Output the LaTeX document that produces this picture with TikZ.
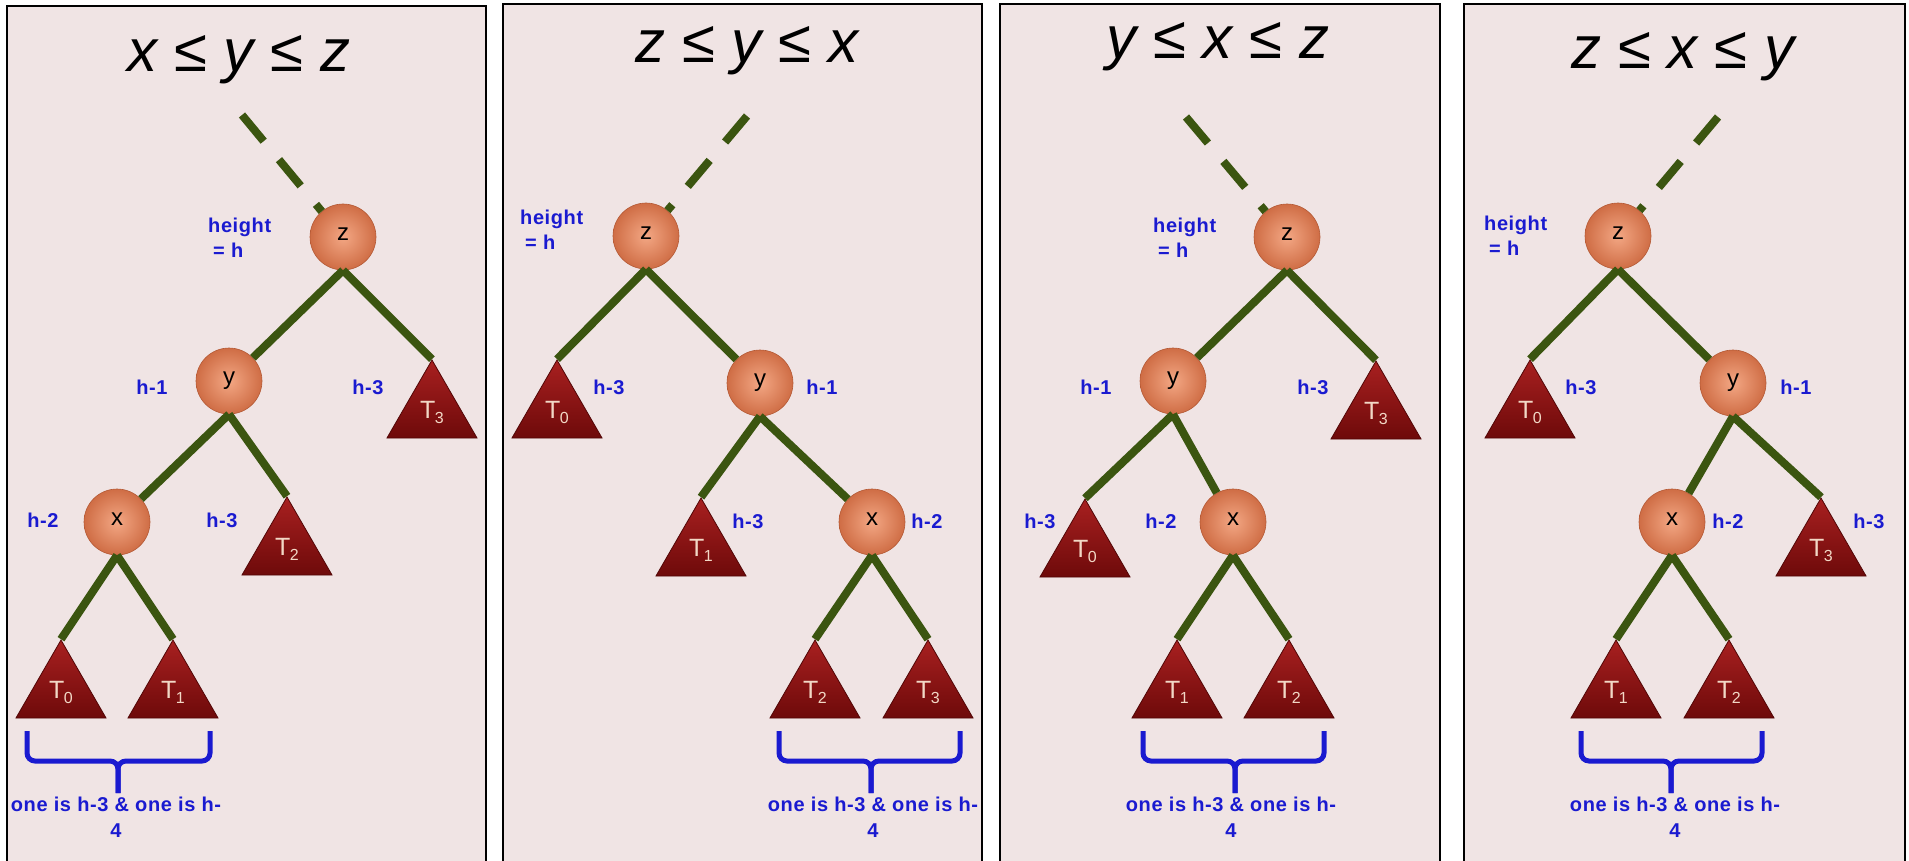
\documentclass[tikz,border=0pt]{standalone}
\usepackage{fontspec}
\setmainfont{Liberation Sans}
\newfontfamily\lblfont{Liberation Sans}[LetterSpace=3]
\usetikzlibrary{shapes.geometric}
\definecolor{panelbg}{HTML}{F0E4E4}
\definecolor{edgegreen}{HTML}{3B5510}
\definecolor{lblblue}{HTML}{1A1AD0}
\definecolor{tritext}{HTML}{F2D8C6}
\definecolor{balllight}{HTML}{F3A784}
\definecolor{balldark}{HTML}{CF6D45}
\definecolor{ballrim}{HTML}{B45A36}
\definecolor{trilight}{HTML}{A82020}
\definecolor{tridark}{HTML}{6E0A0A}
\definecolor{tririm}{HTML}{520606}
\newcommand\drawbrace[3]{%
  \draw[bracestyle] (#1,731) -- (#1,761) -- (#2,761) -- (#2,793);
  \draw[bracestyle] (#3,731) -- (#3,761) -- (#2,761) -- (#2,793);}
\newcommand\tlab[1]{\raisebox{3pt}{T\kern-0.5pt\raisebox{-5pt}{\fontsize{16}{16}\selectfont #1}}}
\begin{document}
\begin{tikzpicture}[x=1pt,y=-1pt,
  panel/.style={draw=black, line width=1.5pt, fill=panelbg},
  ttl/.style={font=\fontsize{60}{60}\selectfont\itshape, inner sep=0pt, anchor=base},
  bnode/.style={circle, minimum size=66pt, inner sep=0pt, inner color=balllight, outer color=balldark, draw=ballrim, line width=0.6pt, font=\fontsize{24}{24}\selectfont},
  tri/.style={regular polygon, regular polygon sides=3, minimum size=104pt, inner sep=0pt, top color=trilight, bottom color=tridark, draw=tririm, line width=0.8pt, text=tritext, font=\fontsize{25}{25}\selectfont},
  hlbl/.style={text=lblblue, font=\lblfont\bfseries\fontsize{20}{25}\selectfont, inner sep=0pt},
  hgt/.style={hlbl, anchor=west, align=left},
  bottomtxt/.style={hlbl, align=center, font=\lblfont\bfseries\fontsize{20}{26}\selectfont},
  treeedge/.style={draw=edgegreen, line width=8pt},
  dashedge/.style={treeedge, dash pattern=on 34pt off 24pt},
  bracestyle/.style={draw=lblblue, line width=5pt, rounded corners=8pt},
]
\useasboundingbox (0,0) rectangle (1909,861);
\fill[white] (0,0) rectangle (1909,861);
% ---------------- panel 1 ----------------
\draw[panel] (7,6) rectangle (486,880);
\node[ttl] (at) at (239,72) {x ≤ y ≤ z};
\node[bnode] (az) at (343,237) {\raisebox{5pt}{z}};
\node[bnode] (ay) at (229,381) {\raisebox{5pt}{y}};
\node[bnode] (ax) at (117,522) {\raisebox{5pt}{x}};
\node[tri] (aT3) at (432,412) {\tlab{3}};
\node[tri] (aT2) at (287,549) {\tlab{2}};
\node[tri] (aT0) at (61,692) {\tlab{0}};
\node[tri] (aT1) at (173,692) {\tlab{1}};
\coordinate (a0) at (242,115);
\draw[dashedge] (a0) -- (az);
\draw[treeedge] (az.south) -- (ay);
\draw[treeedge] (az.south) -- (aT3.corner 1);
\draw[treeedge] (ay.south) -- (ax);
\draw[treeedge] (ay.south) -- (aT2.corner 1);
\draw[treeedge] (ax.south) -- (aT0.corner 1);
\draw[treeedge] (ax.south) -- (aT1.corner 1);
\node[hgt] (ah) at (208,238) {height\\\hspace*{5pt}= h};
\node[hlbl] (al1) at (152,387) {h-1};
\node[hlbl] (al2) at (368,387) {h-3};
\node[hlbl] (al3) at (43,520) {h-2};
\node[hlbl] (al4) at (222,520) {h-3};
\drawbrace{27}{118}{210}
\node[bottomtxt] (ab) at (116,817) {one is h-3 \& one is h-\\4};
% ---------------- panel 2 ----------------
\draw[panel] (503,4) rectangle (982,880);
\node[ttl] (bt) at (747,63) {z ≤ y ≤ x};
\node[bnode] (bz) at (646,236) {\raisebox{5pt}{z}};
\node[bnode] (by) at (760,383) {\raisebox{5pt}{y}};
\node[bnode] (bx) at (872,522) {\raisebox{5pt}{x}};
\node[tri] (bT0) at (557,412) {\tlab{0}};
\node[tri] (bT1) at (701,550) {\tlab{1}};
\node[tri] (bT2) at (815,692) {\tlab{2}};
\node[tri] (bT3) at (928,692) {\tlab{3}};
\coordinate (b0) at (747,116);
\draw[dashedge] (b0) -- (bz);
\draw[treeedge] (bz.south) -- (bT0.corner 1);
\draw[treeedge] (bz.south) -- (by);
\draw[treeedge] (by.south) -- (bT1.corner 1);
\draw[treeedge] (by.south) -- (bx);
\draw[treeedge] (bx.south) -- (bT2.corner 1);
\draw[treeedge] (bx.south) -- (bT3.corner 1);
\node[hgt] (bh) at (520,230) {height\\\hspace*{5pt}= h};
\node[hlbl] (bl1) at (609,387) {h-3};
\node[hlbl] (bl2) at (822,387) {h-1};
\node[hlbl] (bl3) at (748,521) {h-3};
\node[hlbl] (bl4) at (927,521) {h-2};
\drawbrace{779}{871}{960}
\node[bottomtxt] (bb) at (873,817) {one is h-3 \& one is h-\\4};
% ---------------- panel 3 ----------------
\draw[panel] (1000,4) rectangle (1440,880);
\node[ttl] (ct) at (1218,59) {y ≤ x ≤ z};
\node[bnode] (cz) at (1287,237) {\raisebox{5pt}{z}};
\node[bnode] (cy) at (1173,381) {\raisebox{5pt}{y}};
\node[bnode] (cx) at (1233,522) {\raisebox{5pt}{x}};
\node[tri] (cT3) at (1376,413) {\tlab{3}};
\node[tri] (cT0) at (1085,551) {\tlab{0}};
\node[tri] (cT1) at (1177,692) {\tlab{1}};
\node[tri] (cT2) at (1289,692) {\tlab{2}};
\coordinate (c0) at (1186,117);
\draw[dashedge] (c0) -- (cz);
\draw[treeedge] (cz.south) -- (cy);
\draw[treeedge] (cz.south) -- (cT3.corner 1);
\draw[treeedge] (cy.south) -- (cT0.corner 1);
\draw[treeedge] (cy.south) -- (cx);
\draw[treeedge] (cx.south) -- (cT1.corner 1);
\draw[treeedge] (cx.south) -- (cT2.corner 1);
\node[hgt] (ch) at (1153,238) {height\\\hspace*{5pt}= h};
\node[hlbl] (cl1) at (1096,387) {h-1};
\node[hlbl] (cl2) at (1313,387) {h-3};
\node[hlbl] (cl3) at (1040,521) {h-3};
\node[hlbl] (cl4) at (1161,521) {h-2};
\drawbrace{1143}{1235}{1324}
\node[bottomtxt] (cb) at (1231,817) {one is h-3 \& one is h-\\4};
% ---------------- panel 4 ----------------
\draw[panel] (1464,4) rectangle (1905,880);
\node[ttl] (dt) at (1683,69) {z ≤ x ≤ y};
\node[bnode] (dz) at (1618,236) {\raisebox{5pt}{z}};
\node[bnode] (dy) at (1733,383) {\raisebox{5pt}{y}};
\node[bnode] (dx) at (1672,522) {\raisebox{5pt}{x}};
\node[tri] (dT0) at (1530,412) {\tlab{0}};
\node[tri] (dT3) at (1821,550) {\tlab{3}};
\node[tri] (dT1) at (1616,692) {\tlab{1}};
\node[tri] (dT2) at (1729,692) {\tlab{2}};
\coordinate (d0) at (1718,117);
\draw[dashedge] (d0) -- (dz);
\draw[treeedge] (dz.south) -- (dT0.corner 1);
\draw[treeedge] (dz.south) -- (dy);
\draw[treeedge] (dy.south) -- (dx);
\draw[treeedge] (dy.south) -- (dT3.corner 1);
\draw[treeedge] (dx.south) -- (dT1.corner 1);
\draw[treeedge] (dx.south) -- (dT2.corner 1);
\node[hgt] (dh) at (1484,236) {height\\\hspace*{5pt}= h};
\node[hlbl] (dl1) at (1581,387) {h-3};
\node[hlbl] (dl2) at (1796,387) {h-1};
\node[hlbl] (dl3) at (1728,521) {h-2};
\node[hlbl] (dl4) at (1869,521) {h-3};
\drawbrace{1581}{1671}{1762}
\node[bottomtxt] (db) at (1675,817) {one is h-3 \& one is h-\\4};
\end{tikzpicture}
\end{document}
